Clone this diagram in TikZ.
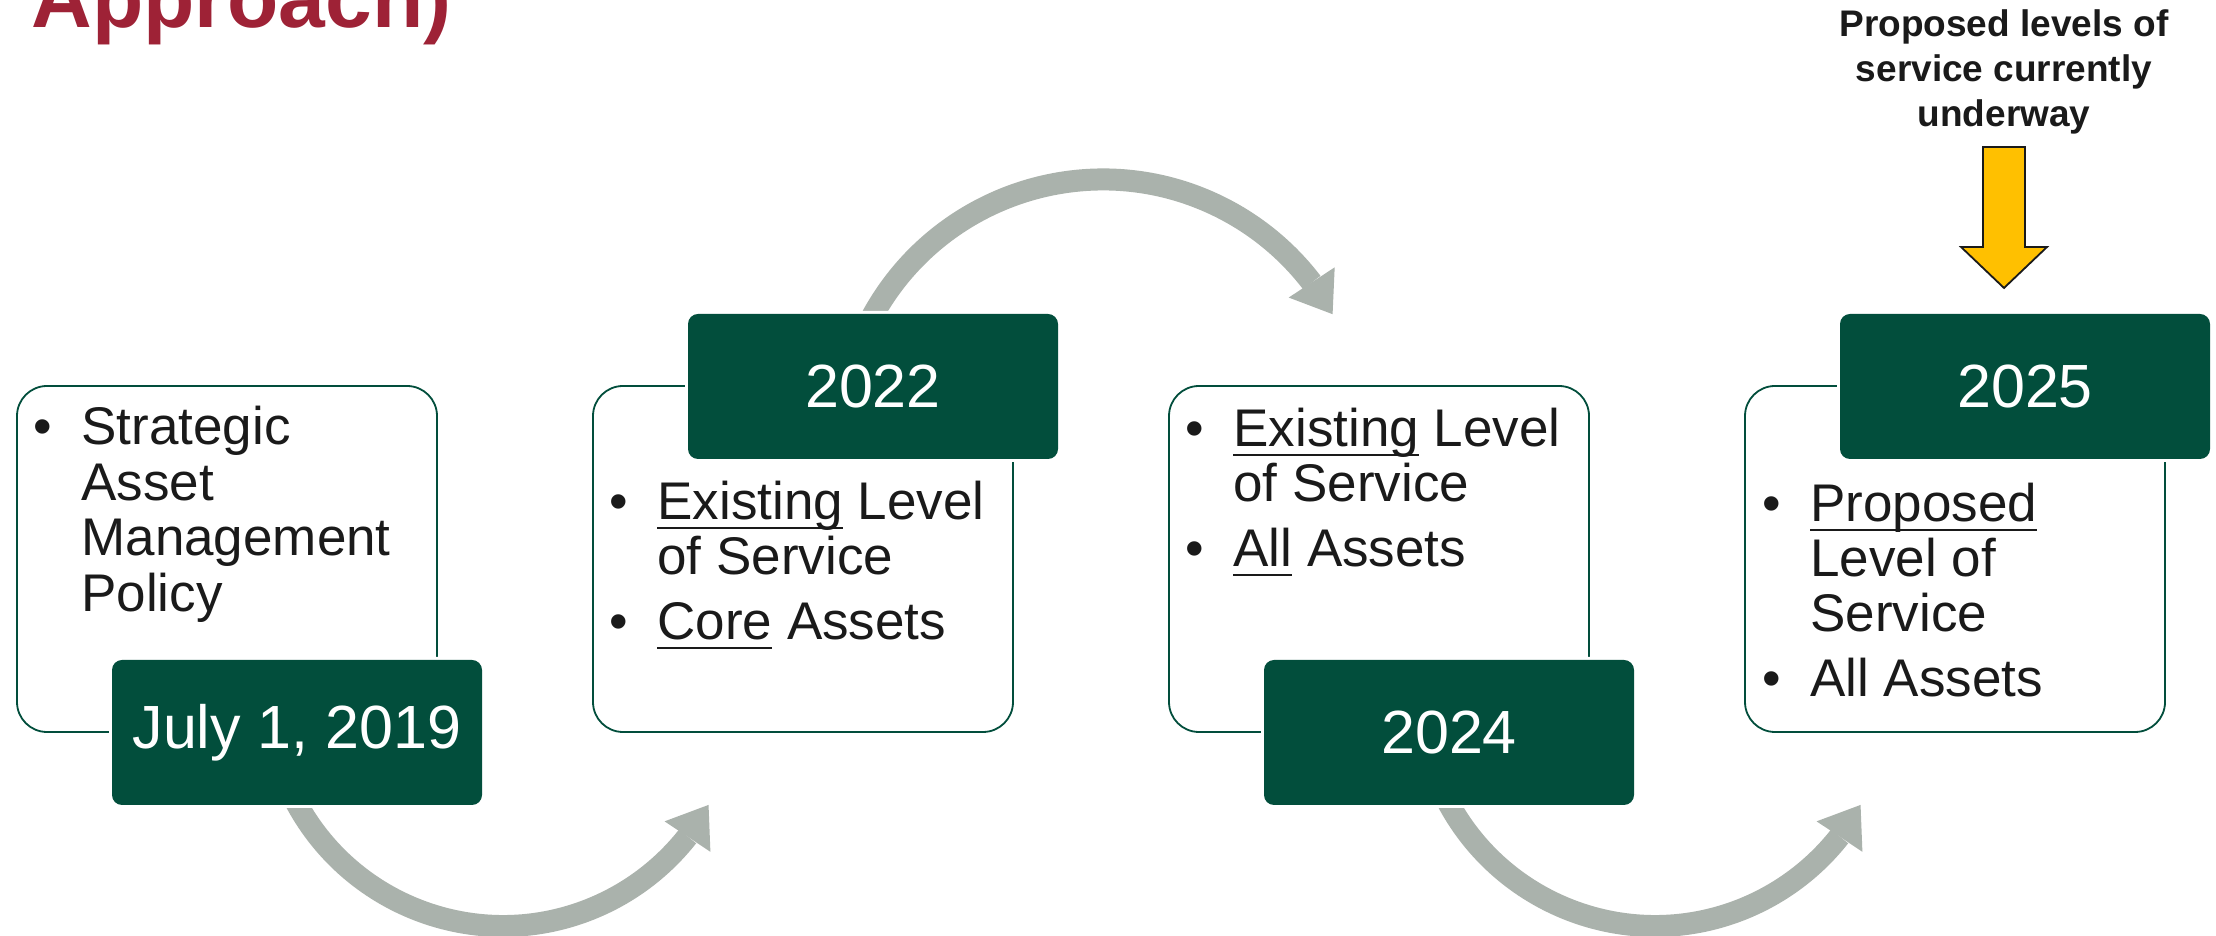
\documentclass[tikz,border=0pt]{standalone}
\usepackage{fontspec}
\setmainfont{Liberation Sans}
\usetikzlibrary{arrows.meta,bending}

\definecolor{titlered}{RGB}{158,34,54}
\definecolor{dkgreen}{RGB}{2,78,60}
\definecolor{arrowgray}{RGB}{170,178,172}
\definecolor{gold}{RGB}{255,192,0}
\definecolor{ink}{RGB}{26,26,26}

% underline at a fixed depth below the baseline
\newsavebox\undlbox
\newcommand\undl[1]{\sbox\undlbox{#1}\rlap{\rule[-0.175em]{\wd\undlbox}{0.05em}}\usebox\undlbox}

\begin{document}
\begin{tikzpicture}[x=0.5pt,y=0.5pt,
  card/.style={draw=dkgreen, line width=0.9pt, fill=white, rounded corners=15pt,
    minimum width=210pt, minimum height=173pt, inner sep=0pt},
  datebox/.style={fill=dkgreen, rounded corners=5pt, minimum width=185pt,
    minimum height=72.5pt, inner sep=0pt, text=white,
    font=\fontsize{30.5}{36}\selectfont, preaction={draw=white, line width=3pt}},
  ln/.style={anchor=base west, inner sep=0pt, text=ink, font=\fontsize{26.5}{31}\selectfont},
  bul/.style={anchor=base, inner sep=0pt, text=ink, font=\fontsize{26.5}{31}\selectfont},
  note/.style={anchor=base, inner sep=0pt, text=ink, font=\bfseries\fontsize{18.5}{22.5}\selectfont},
  flow/.style={draw=arrowgray, line width=11pt,
    -{Triangle[width=27.5pt,length=19pt,line width=0pt]}},
  pointer/.style={draw=ink, line width=0.9pt, fill=gold, line join=miter}
]
\fill[white] (0,0) rectangle (2216,936);
\useasboundingbox (0,0) rectangle (2216,936);

% heading (its upper part runs off the page)
\node[anchor=base west, inner sep=0pt, text=titlered,
  font=\bfseries\fontsize{42}{48}\selectfont] (title) at (31,908.5) {Approach)};

% curved flow arrows between the stages
\coordinate (c1) at (503,245);
\coordinate (c2) at (1103,493.5);
\coordinate (c3) at (1655,245);
\draw[flow] (c1) ++(205:235) arc[start angle=205, end angle=331, radius=235];
\draw[flow] (c2) ++(153:263) arc[start angle=153, end angle=29.2, radius=263];
\draw[flow] (c3) ++(205:235) arc[start angle=205, end angle=331, radius=235];

% stage cards
\node[card] (w1) at (227,377) {};
\node[card] (w2) at (803,377) {};
\node[card] (w3) at (1379,377) {};
\node[card] (w4) at (1955,377) {};

% date tabs
\node[datebox] (d1) at (297,203.5) {July 1, 2019};
\node[datebox] (d2) at (873,549.5) {2022};
\node[datebox] (d3) at (1449,203.5) {2024};
\node[datebox] (d4) at (2025,549.5) {2025};

% stage 1
\node[bul] (b1a) at (43,491) {\textbullet};
\node[ln] (t1a) at (81,491) {Strategic};
\node[ln] (t1b) at (81,435.5) {Asset};
\node[ln] (t1c) at (81,380) {Management};
\node[ln] (t1d) at (81,324.5) {Policy};

% stage 2
\node[bul] (b2a) at (619,416) {\textbullet};
\node[ln] (t2a) at (657,416) {\undl{Existing} Level};
\node[ln] (t2b) at (657,361) {of Service};
\node[bul] (b2b) at (619,296) {\textbullet};
\node[ln] (t2c) at (657,296) {\undl{Core} Assets};

% stage 3
\node[bul] (b3a) at (1195,489) {\textbullet};
\node[ln] (t3a) at (1233,489) {\undl{Existing} Level};
\node[ln] (t3b) at (1233,434) {of Service};
\node[bul] (b3b) at (1195,369) {\textbullet};
\node[ln] (t3c) at (1233,369) {\undl{All} Assets};

% stage 4
\node[bul] (b4a) at (1772,414) {\textbullet};
\node[ln] (t4a) at (1810,414) {\undl{Proposed}};
\node[ln] (t4b) at (1810,359) {Level of};
\node[ln] (t4c) at (1810,304) {Service};
\node[bul] (b4b) at (1772,239) {\textbullet};
\node[ln] (t4d) at (1810,239) {All Assets};

% note above the last stage
\node[note] (n1) at (2004,899) {Proposed levels of};
\node[note] (n2) at (2004,854) {service currently};
\node[note] (n3) at (2004,809) {underway};

% block arrow pointing at the 2025 tab
\coordinate (ya) at (2004,789);
\draw[pointer] (ya) ++(-21,0) -- ++(42,0) -- ++(0,-100) -- ++(22,0)
  -- ++(-43,-41) -- ++(-43,41) -- ++(22,0) -- cycle;
\end{tikzpicture}
\end{document}
